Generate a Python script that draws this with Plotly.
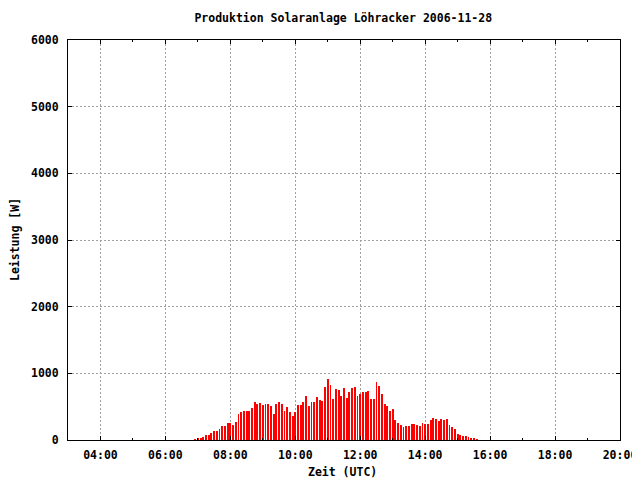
import plotly.graph_objects as go
import pandas as pd

start_time = "2006-11-28 06:55"
step_minutes = 5
power_w = [
    15, 30, 30, 45, 75, 75, 105, 135, 135, 165, 210, 210, 255, 255, 225, 270, 390, 420,
    435, 435, 435, 480, 570, 540, 555, 525, 540, 540, 510, 390, 540, 570, 540, 435, 495,
    420, 360, 420, 525, 525, 570, 660, 510, 570, 570, 645, 600, 585, 795, 915, 825, 615,
    765, 750, 660, 780, 630, 720, 780, 795, 660, 690, 720, 720, 735, 615, 615, 870, 810,
    690, 540, 510, 435, 465, 300, 255, 225, 195, 210, 210, 240, 240, 225, 210, 255, 240,
    240, 300, 330, 315, 285, 315, 300, 315, 225, 195, 165, 90, 75, 60, 60, 45, 30, 30, 15,
]
times = pd.date_range(start_time, periods=len(power_w), freq=f"{step_minutes}min")

title_text = "Produktion Solaranlage Löhracker 2006-11-28"
x_label = "Zeit (UTC)"
y_label = "Leistung [W]"
x_range = ["2006-11-28 03:00", "2006-11-28 20:00"]
y_range = [0, 6000]

font_family = "DejaVu Sans Mono"
fnt = dict(family=font_family, size=11.5, color="black", weight="bold")

fig = go.Figure()
fig.add_trace(go.Bar(
    x=times, y=power_w,
    width=step_minutes * 60 * 1000 * 0.33,
    marker=dict(color="#ff0000", line=dict(width=0)),
))

axis_common = dict(
    showline=True, linecolor="black", linewidth=1, mirror="ticks",
    ticks="inside", tickcolor="black", ticklen=4, tickwidth=1,
    showgrid=True, gridcolor="#a0a0a0", griddash="2px,2px", gridwidth=1,
    zeroline=False, tickfont=fnt, automargin=False,
)

# page body has an 8px default margin; figure sized/positioned to compensate
fig.update_layout(
    width=632, height=472,
    margin=dict(l=60, r=20, t=32, b=40),
    paper_bgcolor="white", plot_bgcolor="white",
    showlegend=False, bargap=0,
    font=fnt,
    title=dict(text=title_text, x=0.5305, xanchor="center", y=0.979, yanchor="middle",
               font=fnt),
    xaxis=dict(
        **axis_common,
        type="date", range=x_range,
        tick0="2006-11-28 04:00", dtick=2 * 3600 * 1000, tickformat="%H:%M",
        minor=dict(ticks="inside", dtick=3600 * 1000, tick0="2006-11-28 03:00",
                   ticklen=2, tickcolor="black", showgrid=False),
        ticklabelstandoff=4, ticklabeloverflow="allow",
    ),
    yaxis=dict(
        **axis_common,
        range=y_range, dtick=1000, tickformat="d",
        ticklabelstandoff=6,
    ),
    annotations=[
        dict(text=x_label, xref="paper", yref="paper", x=0.498, y=-0.08,
             xanchor="center", yanchor="middle", showarrow=False, font=fnt),
        dict(text=y_label, xref="paper", yref="paper", x=-0.096, y=0.5,
             xanchor="center", yanchor="middle", showarrow=False, font=fnt,
             textangle=-90),
    ],
)

fig.write_html("out.html")
